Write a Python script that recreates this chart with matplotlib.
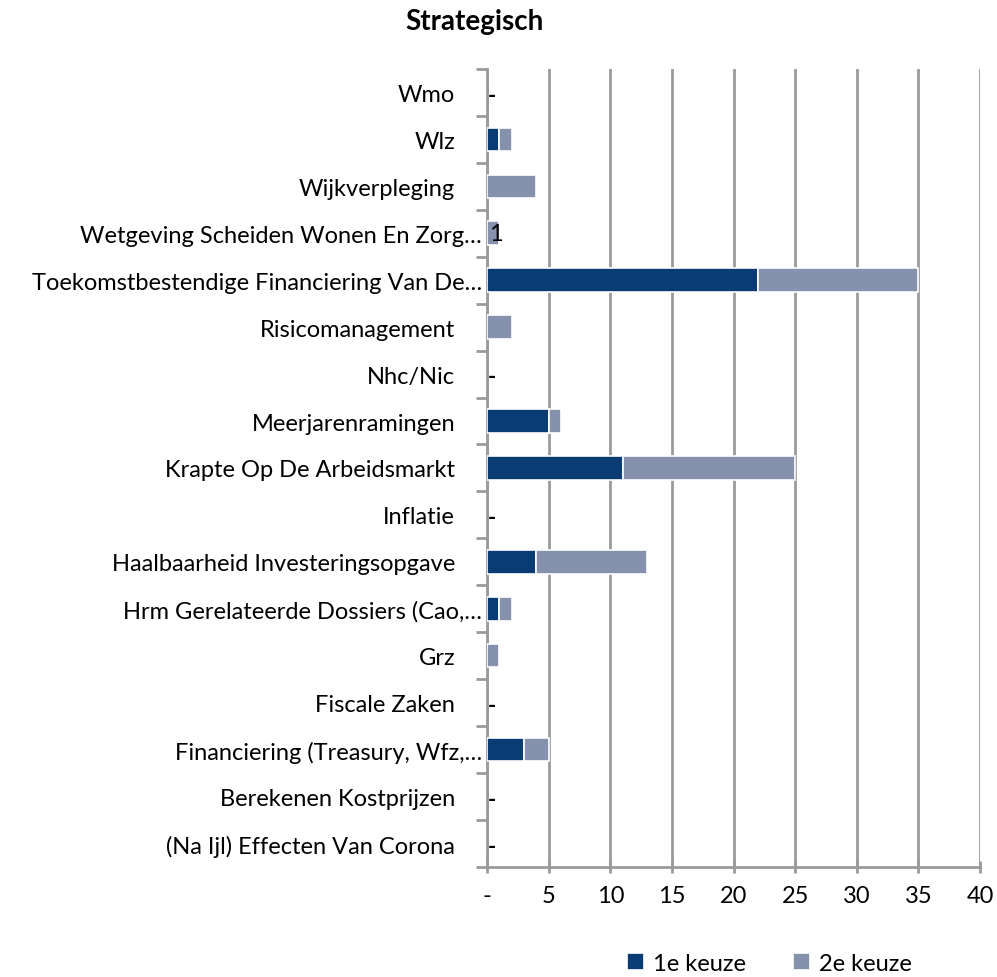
import matplotlib
matplotlib.use("Agg")
import matplotlib.pyplot as plt
import matplotlib.transforms as mtransforms
import numpy as np

plt.rcParams['font.family'] = ['Lato', 'DejaVu Sans']

categories = ['Wmo', 'Wlz', 'Wijkverpleging', 'Wetgeving Scheiden Wonen En Zorg…',
              'Toekomstbestendige Financiering Van De…', 'Risicomanagement', 'Nhc/Nic',
              'Meerjarenramingen', 'Krapte Op De Arbeidsmarkt', 'Inflatie',
              'Haalbaarheid Investeringsopgave', 'Hrm Gerelateerde Dossiers (Cao,…',
              'Grz', 'Fiscale Zaken', 'Financiering (Treasury, Wfz,…',
              'Berekenen Kostprijzen', '(Na Ijl) Effecten Van Corona']
keuze1 = [0, 1, 0, 0, 22, 0, 0, 5, 11, 0, 4, 1, 0, 0, 3, 0, 0]
keuze2 = [0, 1, 4, 1, 13, 2, 0, 1, 14, 0, 9, 1, 1, 0, 2, 0, 0]
xticks = [0, 5, 10, 15, 20, 25, 30, 35, 40]
xticklabels = ['-', '5', '10', '15', '20', '25', '30', '35', '40']

dark = '#0a3b72'
light = '#8591ad'
grid = '#9a9a9a'

fig = plt.figure(figsize=(9.97, 9.78), dpi=100)
ax = fig.add_axes([0.4885, 0.1125, 0.4945, 0.816])

y = np.arange(len(categories))
k1 = np.array(keuze1)
k2 = np.array(keuze2)
m1 = k1 > 0
m2 = k2 > 0
ax.barh(y[m1], k1[m1], height=0.5, color=dark, edgecolor='white', linewidth=1.2,
        label='1e keuze', zorder=3)
ax.barh(y[m2], k2[m2], left=k1[m2], height=0.5, color=light, edgecolor='white', linewidth=1.2,
        label='2e keuze', zorder=3)

# data labels: "-" where nothing was chosen, value for the small Wetgeving bar
for i, (a, b) in enumerate(zip(keuze1, keuze2)):
    if a + b == 0:
        ax.text(0.02, i + 0.06, '-', va='center', ha='left', fontsize=16, fontweight='bold',
                color='black', zorder=4)
ax.text(0.75, 3, '1', va='center', ha='center', fontsize=17, color='black', zorder=4)

ax.set_xlim(0, 40)
ax.set_ylim(len(categories) - 0.5, -0.5)
ax.set_xticks(xticks)
ax.set_xticklabels(xticklabels, fontsize=17)
ax.set_yticks(y)
ax.set_yticklabels(categories, fontsize=17)
ax.set_yticks(np.arange(len(categories) + 1) - 0.5, minor=True)
ax.tick_params(axis='y', which='major', length=0, pad=23)
ax.tick_params(axis='y', which='minor', length=8, width=2, color=grid, direction='out')
ax.tick_params(axis='x', length=8, width=2, color=grid, direction='inout', pad=9)

# truncated labels stick out further to the right, like in Excel
shift = mtransforms.ScaledTranslation(27 / 100, 0, fig.dpi_scale_trans)
for lab in ax.get_yticklabels():
    if lab.get_text().endswith('…'):
        lab.set_transform(lab.get_transform() + shift)

ax.xaxis.grid(True, color=grid, linewidth=2, zorder=0)
ax.set_axisbelow(True)
for s in ['top', 'right']:
    ax.spines[s].set_visible(False)
for s in ['left', 'bottom']:
    ax.spines[s].set_color(grid)
    ax.spines[s].set_linewidth(2)

fig.text(0.476, 0.978, 'Strategisch', ha='center', va='center', fontsize=20, fontweight='bold')
fig.legend(loc='center', bbox_to_anchor=(0.772, 0.014), ncol=2, frameon=False, fontsize=17,
           handlelength=0.7, handleheight=0.7, handletextpad=0.4, columnspacing=2.0)

fig.savefig('out.png', dpi=100)
